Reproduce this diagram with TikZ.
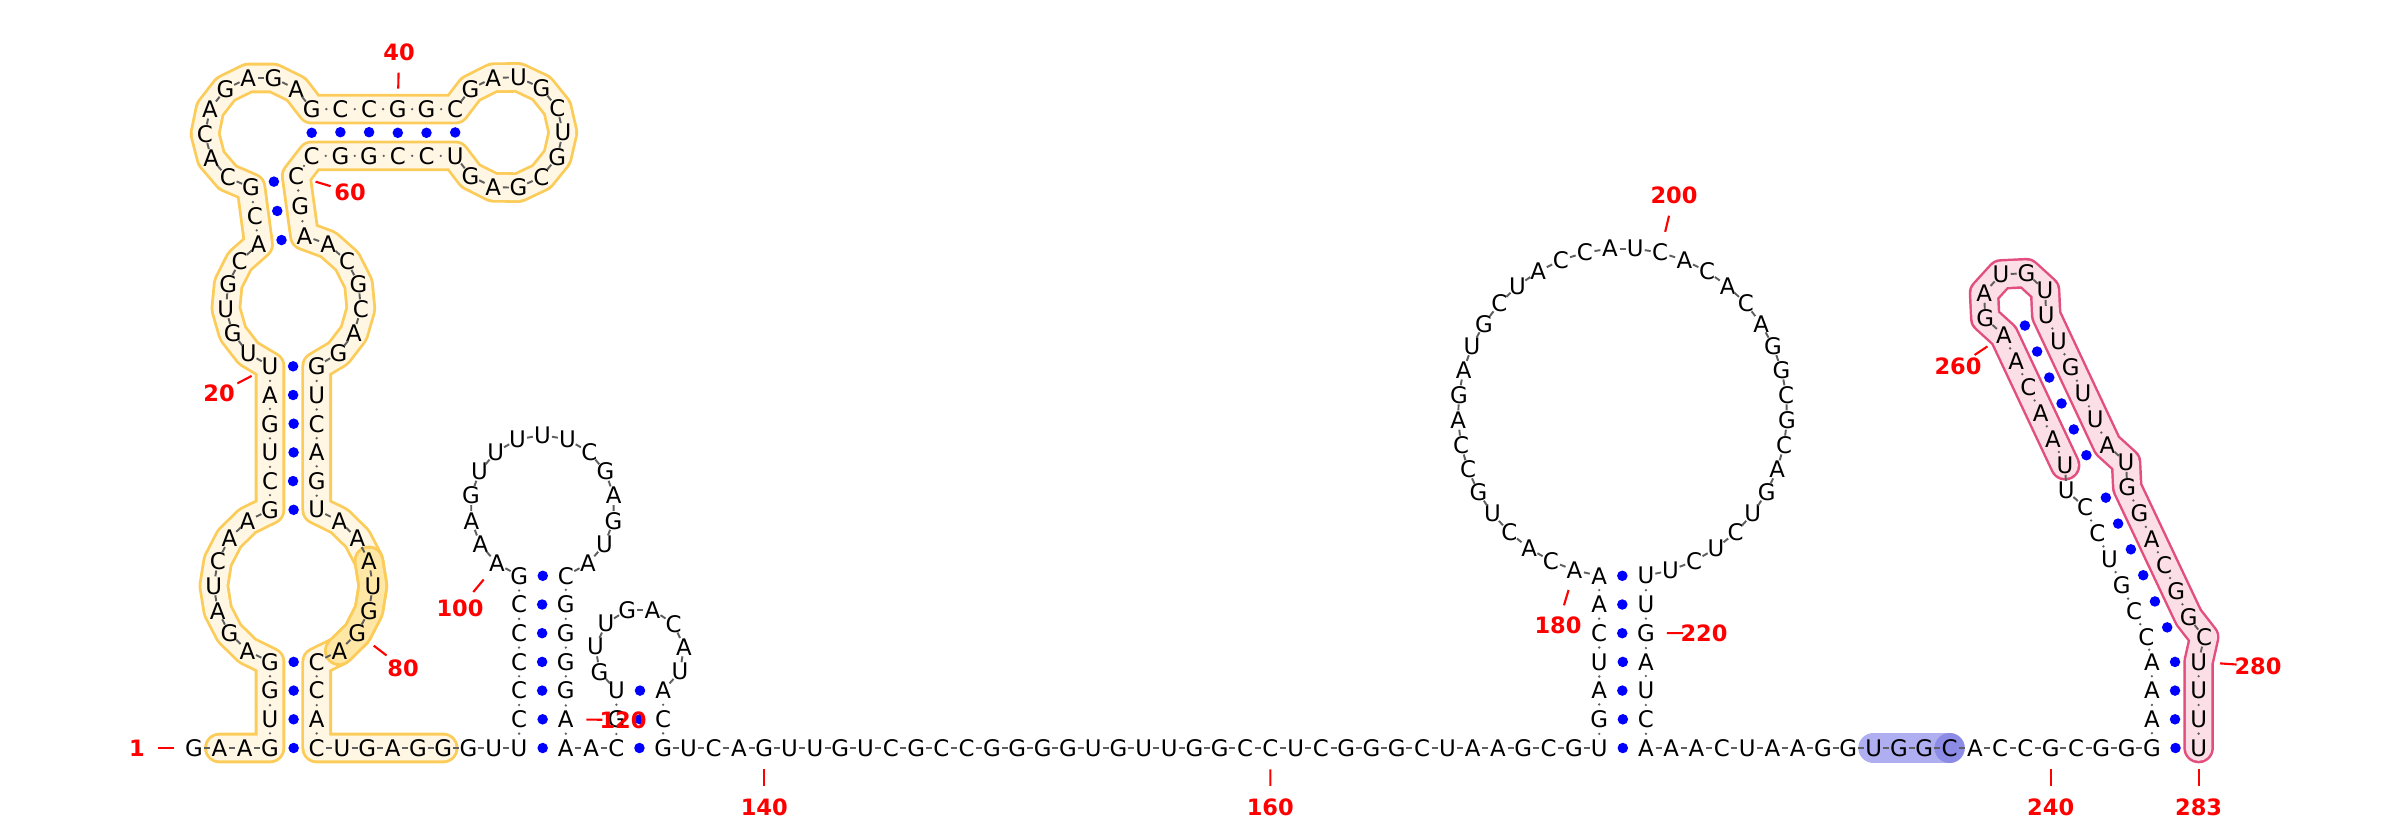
\documentclass[tikz,border=0pt]{standalone}
\usepackage{fontspec}
\setmainfont{DejaVu Sans}
\usetikzlibrary{calc}
\definecolor{bbgray}{RGB}{95,95,95}
\definecolor{bpblue}{RGB}{0,0,255}
\definecolor{lblred}{RGB}{255,0,0}
\definecolor{ybord}{RGB}{252,204,90}
\definecolor{yfill}{RGB}{255,247,227}
\definecolor{ydark}{RGB}{255,231,165}
\definecolor{pbord}{RGB}{226,78,126}
\definecolor{pfill}{RGB}{252,222,230}
\definecolor{blight}{RGB}{174,174,240}
\definecolor{bdark}{RGB}{140,140,230}
\tikzset{
  nt/.style={circle, inner sep=0pt, minimum size=0.2cm, font=\fontsize{6.5}{7}\selectfont},
  bb/.style={draw=bbgray, line width=0.55pt},
  stemdot/.style={circle, fill=bbgray, inner sep=0pt, minimum size=0.026cm},
  bpdot/.style={circle, fill=bpblue, inner sep=0pt, minimum size=0.105cm},
  numlbl/.style={font=\fontsize{6.4}{7}\selectfont\bfseries, text=lblred, inner sep=0pt},
  tick/.style={draw=lblred, line width=0.6pt},
  tubeline/.style={line width=#1, line cap=round, line join=round},
}
% one nucleotide on a loop circle: n, cx, cy, R, angle
\newcommand{\ntarc}[5]{\pgfmathsetmacro\ntx{#2+#4*cos(#5)}\pgfmathsetmacro\nty{#3+#4*sin(#5)}\coordinate (p#1) at (\ntx,\nty);}
% unpaired run first..last between the angles of first-1 and last+1
\newcommand{\arcrun}[7]{\foreach \n in {#1,...,#2}{\pgfmathsetmacro\ang{#6+(\n-#1+1)*(#7-#6)/(#2-#1+2)}\ntarc{\n}{#3}{#4}{#5}{\ang}}}
% vertical helix: 5' start, 3' end, pairs-1, x left, x right, y of first pair
\newcommand{\vstem}[6]{\foreach \k in {0,...,#3}{\pgfmathtruncatemacro\ia{#1+\k}\pgfmathtruncatemacro\ib{#2-\k}\coordinate (p\ia) at (#4,{#6-28.7*\k});\coordinate (p\ib) at (#5,{#6-28.7*\k});}}
% slanted helix grown from the pair (a,b) by step (dx,dy)
\newcommand{\sstem}[5]{\foreach \k in {1,...,#3}{\pgfmathtruncatemacro\ia{#1+\k}\pgfmathtruncatemacro\ib{#2-\k}\coordinate (p\ia) at ($(p#1)+({#4*\k},{#5*\k})$);\coordinate (p\ib) at ($(p#2)+({#4*\k},{#5*\k})$);}}
% straight run on the base line
\newcommand{\hrun}[3]{\foreach \n in {#1,...,#2}{\coordinate (p\n) at ({#3+25.3*(\n-#1)},748);}}

\begin{document}
\begin{tikzpicture}[x=0.01cm, y=-0.01cm]
\useasboundingbox (0,0) rectangle (2400,824);
% exterior loop and its helices
\hrun{1}{3}{194.1}
\vstem{4}{85}{3}{270}{316.7}{748}
\hrun{86}{92}{342.0}
\vstem{93}{121}{6}{519.1}{565.8}{748}
\hrun{122}{122}{591.1}
\vstem{123}{136}{2}{616.4}{663.1}{748}
\hrun{137}{172}{688.4}
\vstem{173}{224}{6}{1599.2}{1645.9}{748}
\hrun{225}{243}{1671.2}
\vstem{244}{283}{3}{2151.9}{2198.6}{748}
% left arm
\arcrun{8}{14}{293.35}{585.85}{79.55}{107.07}{252.93}
\arcrun{75}{81}{293.35}{585.85}{79.55}{287.07}{432.93}
\vstem{15}{74}{5}{270}{316.7}{509.8}
\arcrun{21}{25}{293.35}{302.62}{67.83}{110.14}{239.14}
\arcrun{63}{68}{293.35}{302.62}{67.83}{279.42}{429.86}
\ntarc{26}{293.35}{302.62}{67.83}{239.14}
\ntarc{62}{293.35}{302.62}{67.83}{279.42}
\ntarc{28}{260.86}{132.5}{55.95}{100.15}
\ntarc{60}{260.86}{132.5}{55.95}{50.81}
\coordinate (p27) at ($(p26)!0.5!(p28)$);
\coordinate (p61) at ($(p62)!0.5!(p60)$);
\arcrun{29}{36}{260.86}{132.5}{55.95}{100.15}{335.33}
\foreach \k in {0,...,5}{\pgfmathtruncatemacro\ia{37+\k}\pgfmathtruncatemacro\ib{59-\k}
  \coordinate (p\ia) at ({311.7+28.7*\k},109.15); \coordinate (p\ib) at ({311.7+28.7*\k},155.85);}
\arcrun{43}{53}{506.54}{132.5}{56.4}{204.46}{515.54}
% hairpins on the base line
\arcrun{100}{114}{542.45}{507.34}{72.33}{108.83}{431.17}
\arcrun{126}{133}{639.75}{652.65}{44.56}{121.60}{418.40}
\arcrun{180}{217}{1622.55}{412.81}{164.65}{98.15}{441.85}
% right arm
\ntarc{248}{2175.25}{643.69}{29.61}{192.63}
\ntarc{278}{2175.25}{643.69}{29.61}{296.75}
\ntarc{279}{2175.25}{643.69}{29.61}{347.33}
\sstem{248}{278}{5}{-12.27}{-25.94}
\ntarc{254}{2096.14}{476.43}{33.02}{154.74}
\ntarc{255}{2096.14}{476.43}{33.02}{199.79}
\ntarc{271}{2096.14}{476.43}{33.02}{289.79}
\ntarc{272}{2096.14}{476.43}{33.02}{334.84}
\sstem{255}{271}{5}{-12.22}{-25.97}
\arcrun{261}{265}{2015.14}{304.29}{33.05}{109.74}{379.84}
% highlighted ranges
\draw[tubeline=8.7pt, draw=ybord] (p2) \foreach \n in {3,...,90}{-- (p\n)};
\draw[tubeline=7.1pt, draw=yfill] (p2) \foreach \n in {3,...,90}{-- (p\n)};
\draw[tubeline=8.7pt, draw=ybord] (p77) \foreach \n in {78,...,81}{-- (p\n)};
\draw[tubeline=7.1pt, draw=ydark] (p77) \foreach \n in {78,...,81}{-- (p\n)};
\draw[tubeline=8.7pt, draw=pbord] (p255) \foreach \n in {256,...,283}{-- (p\n)};
\draw[tubeline=7.3pt, draw=pfill] (p255) \foreach \n in {256,...,283}{-- (p\n)};
\draw[tubeline=8.7pt, draw=blight] (p233) -- (p234) -- (p235) -- (p236);
\fill[bdark] (p236) circle[radius=0.15cm];
% nucleotides
\foreach \b [count=\i] in {G,A,A,G,U,G,G,A,G,A, U,C,A,A,G,C,U,G,A,U, U,G,U,G,C,A,C,G,C,A,
  C,A,G,A,G,A,G,C,C,G, G,C,G,A,U,G,C,U,G,C, G,A,G,U,C,C,G,G,C,C, G,A,A,C,G,C,A,G,G,U,
  C,A,G,U,A,A,A,U,G,G, A,C,C,A,C,U,G,A,G,G, G,U,U,C,C,C,C,C,G,A, A,A,G,U,U,U,U,U,C,G,
  A,G,U,A,C,G,G,G,G,A, A,A,C,G,U,G,U,U,G,A, C,A,U,A,C,G,U,C,A,G, U,U,G,U,C,G,C,C,G,G,
  G,G,U,G,U,U,G,G,C,C, U,C,G,G,G,C,U,A,A,G, C,G,U,G,A,U,C,A,A,A, C,A,C,U,G,C,C,A,G,A,
  U,G,C,U,A,C,C,A,U,C, A,C,A,C,A,G,G,C,G,C, A,G,U,C,U,C,U,U,U,G, A,U,C,A,A,A,C,U,A,A,
  G,G,U,G,G,C,A,C,C,G, C,G,G,G,A,A,A,C,C,G, U,C,C,U,U,A,A,C,A,A, G,A,U,G,U,U,U,G,U,U,
  A,U,G,G,A,C,G,G,C,U, U,U,U}
  \node[nt] (n\i) at (p\i) {\b};
% backbone: a dot inside helices, a short dash elsewhere
\foreach \n in {4,5,6,15,16,17,18,19,26,27,37,38,39,40,41,54,55,56,57,58,59,60,61,
  69,70,71,72,73,82,83,84,93,94,95,96,97,98,115,116,117,118,119,120,123,124,134,135,
  173,174,175,176,177,178,218,219,220,221,222,223,244,245,246,247,248,249,250,251,252,
  255,256,257,258,259,266,267,268,269,270,273,274,275,276,277,280,281,282}
  {\expandafter\xdef\csname sl\n\endcsname{1}}
\foreach \n in {1,...,282}{\pgfmathtruncatemacro\m{\n+1}
  \ifcsname sl\n\endcsname \path (n\n) -- node[stemdot]{} (n\m);
  \else
    \coordinate (bm) at ($(n\n)!0.5!(n\m)$);
    \draw[bb] ($(bm)!0.03cm!(n\n)$) -- ($(bm)!0.03cm!(n\m)$);
  \fi}
% base pairs
\foreach \a/\b in {4/85,5/84,6/83,7/82,15/74,16/73,17/72,18/71,19/70,20/69,26/62,27/61,28/60,
  37/59,38/58,39/57,40/56,41/55,42/54,93/121,94/120,95/119,96/118,97/117,98/116,99/115,
  123/136,124/135,125/134,173/224,174/223,175/222,176/221,177/220,178/219,179/218,
  244/283,245/282,246/281,247/280,248/278,249/277,250/276,251/275,252/274,253/273,
  255/271,256/270,257/269,258/268,259/267,260/266}
  {\path (n\a) -- node[bpdot]{} (n\b);}
% numbering
\foreach \i/\x/\y in {1/137/748,20/219/393,40/399/52,60/350/192,80/403/668,100/460/608,
  120/623/720,140/764.3/807,160/1270.3/807,180/1558/625,200/1674/195,220/1704/633,
  240/2050.7/807,260/1958/366,280/2258/666,283/2198.6/807}{
  \node[numlbl] (l\i) at (\x,\y) {\i};
  \draw[tick] ($(n\i)!0.36!(l\i)$) -- ($(n\i)!0.64!(l\i)$);
}
\end{tikzpicture}
\end{document}
